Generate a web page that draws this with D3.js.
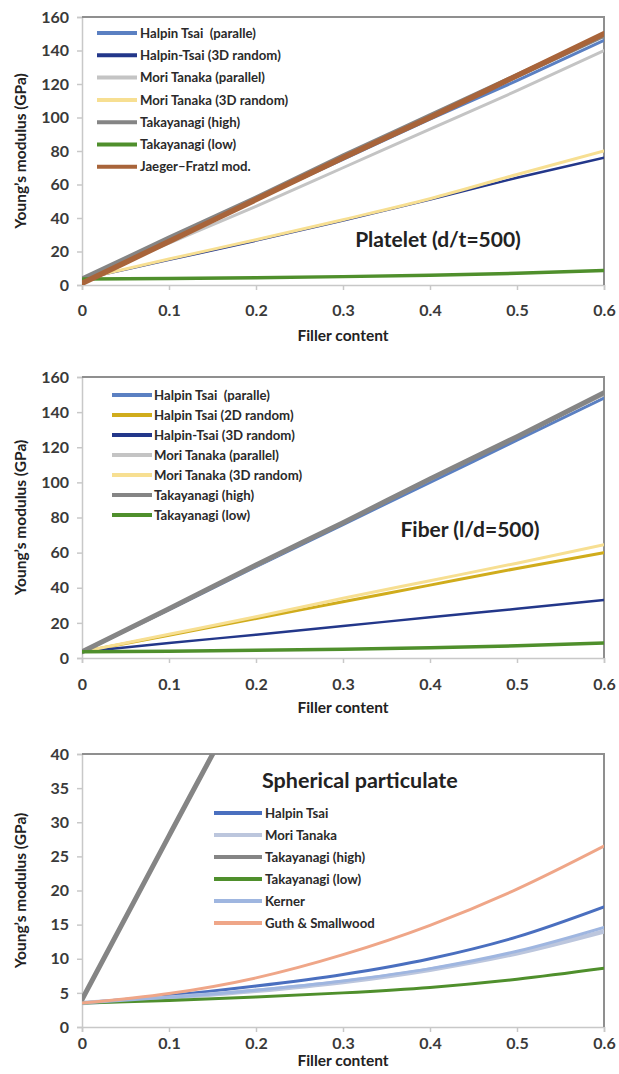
<!DOCTYPE html>
<html lang="en">
<script src="https://d3js.org/d3.v7.min.js"></script>
<style>
  body { margin: 0; background: #fff; }
  svg text { font-family: Lato, "Open Sans", sans-serif; }
  .tick text { font-size: 16px; font-weight: bold; fill: #3a3a3a; }
  .legend text { font-size: 13.2px; font-weight: bold; fill: #2a2a2a; white-space: pre; }
  .axis-title { font-size: 15.5px; font-weight: bold; fill: #222; }
  .note { font-weight: bold; fill: #222; }
</style>
<body>
<svg id="chart" width="619" height="1074"></svg>
<script>
  // filler volume fraction (x) shared by all panels
  var fillerX = [0, 0.1, 0.2, 0.3, 0.4, 0.5, 0.6];
  var xTicks = [0, 0.1, 0.2, 0.3, 0.4, 0.5, 0.6];
  var xTickLabels = ["0", "0.1", "0.2", "0.3", "0.4", "0.5", "0.6"];

  // Platelet (d/t=500)
  var plateletNames = ["Halpin Tsai  (paralle)", "Halpin-Tsai (3D random)", "Mori Tanaka (parallel)",
    "Mori Tanaka (3D random)", "Takayanagi (high)", "Takayanagi (low)", "Jaeger\u2013Fratzl mod."];
  var plateletValues = [
    [3.5, 27, 51, 75, 99, 122, 146],
    [3.5, 15, 26.5, 38.5, 51, 64, 76],
    [3.5, 25, 47, 70, 93, 116, 140],
    [3.5, 15.5, 27, 39, 51.5, 66, 80],
    [3.5, 28, 52, 77, 101, 125, 149],
    [3.5, 3.9, 4.4, 5.0, 5.8, 7.0, 8.7],
    [1, 26, 51, 76, 100, 125, 150]
  ];
  var plateletYTicks = [0, 20, 40, 60, 80, 100, 120, 140, 160];

  // Fiber (l/d=500)
  var fiberNames = ["Halpin Tsai  (paralle)", "Halpin Tsai (2D random)", "Halpin-Tsai (3D random)",
    "Mori Tanaka (parallel)", "Mori Tanaka (3D random)", "Takayanagi (high)", "Takayanagi (low)"];
  var fiberValues = [
    [3.5, 27.5, 52, 76, 100, 124, 148],
    [3.5, 13, 22.5, 32, 41.5, 51, 60],
    [3.5, 8.5, 13.3, 18.2, 23.2, 28, 33],
    [3.5, 28, 52.5, 77, 101.5, 126, 150],
    [3.5, 13.5, 23.5, 34, 44, 54, 64.5],
    [3.5, 28, 53, 77, 102, 126, 151],
    [3.5, 3.9, 4.4, 5.0, 5.8, 7.0, 8.5]
  ];
  var fiberYTicks = [0, 20, 40, 60, 80, 100, 120, 140, 160];

  // Spherical particulate
  var sphereNames = ["Halpin Tsai", "Mori Tanaka", "Takayanagi (high)", "Takayanagi (low)", "Kerner", "Guth & Smallwood"];
  var sphereValues = [
    [3.5, 4.6, 6.0, 7.7, 10.0, 13.2, 17.6],
    [3.5, 4.3, 5.3, 6.6, 8.4, 10.8, 14.0],
    [4, 28, 52, 77, 101, 125, 150],
    [3.5, 3.9, 4.4, 5.0, 5.8, 7.0, 8.6],
    [3.5, 4.35, 5.4, 6.75, 8.55, 11.1, 14.6],
    [3.5, 4.9, 7.2, 10.6, 14.9, 20.2, 26.5]
  ];
  var sphereYTicks = [0, 5, 10, 15, 20, 25, 30, 35, 40];

  var svg = d3.select("#chart");

  var panels = [
    { names: plateletNames, values: plateletValues, yTicks: plateletYTicks, yMax: 160,
      top: 17, bottom: 285, tickY: 310, titleY: 336,
      colors: ["#5b80c2", "#23378a", "#c4c4c4", "#f7df92", "#858585", "#4f8f2c", "#a8643a"],
      widths: [3, 2.5, 3, 3, 5, 3.5, 5.5],
      legend: { x1: 97, x2: 137, tx: 140, y0: 33, dy: 22.3 },
      note: { text: "Platelet (d/t=500)", x: 438, y: 240, size: 21 } },
    { names: fiberNames, values: fiberValues, yTicks: fiberYTicks, yMax: 160,
      top: 377, bottom: 658, tickY: 684, titleY: 708,
      colors: ["#5b80c2", "#d0ac1c", "#23378a", "#c4c4c4", "#f7df92", "#858585", "#4f8f2c"],
      widths: [3, 3, 2.5, 3, 3, 5, 3.5],
      legend: { x1: 112, x2: 152, tx: 154, y0: 395, dy: 20 },
      note: { text: "Fiber (l/d=500)", x: 470, y: 530, size: 21 } },
    { names: sphereNames, values: sphereValues, yTicks: sphereYTicks, yMax: 40,
      top: 754, bottom: 1027, tickY: 1043, titleY: 1061,
      colors: ["#4a6fbf", "#bcc6dd", "#858585", "#4f8f2c", "#9fb6e0", "#efa688"],
      widths: [3, 4.5, 5, 3, 3, 3],
      legend: { x1: 214, x2: 262, tx: 265, y0: 813, dy: 22 },
      note: { text: "Spherical particulate", x: 262, y: 780, size: 21.5, anchor: "start" } }
  ];

  var left = 82, right = 604;

  panels.forEach(function (p, pi) {
    var x = d3.scaleLinear().domain([0, 0.6]).range([left, right]);
    var y = d3.scaleLinear().domain([0, p.yMax]).range([p.bottom, p.top]);
    var g = svg.append("g");

    g.append("clipPath").attr("id", "clip" + pi)
      .append("rect").attr("x", left).attr("y", p.top)
      .attr("width", right - left).attr("height", p.bottom - p.top);

    // y axis
    var ya = g.append("g").attr("transform", "translate(" + left + ",0)")
      .call(d3.axisLeft(y).tickValues(p.yTicks).tickSize(5).tickPadding(8));
    ya.select(".domain").attr("stroke", "#c8c8c8").attr("stroke-width", 1.5);
    ya.selectAll(".tick line").attr("stroke", "#c8c8c8").attr("stroke-width", 1.5);

    // x axis
    var xa = g.append("g").attr("transform", "translate(0," + p.bottom + ")")
      .call(d3.axisBottom(x).tickValues(xTicks).tickSize(5)
        .tickFormat(function (d, i) { return xTickLabels[i]; }));
    xa.select(".domain").attr("stroke", "#c8c8c8").attr("stroke-width", 1.5);
    xa.selectAll(".tick line").attr("stroke", "#c8c8c8").attr("stroke-width", 1.5);
    xa.selectAll(".tick text").attr("y", 0).attr("dy", null)
      .attr("transform", "translate(0," + (p.tickY - p.bottom + 6) + ")");

    // top / right border of plot area
    g.append("path")
      .attr("d", "M" + left + "," + p.top + "H" + right + "V" + p.bottom)
      .attr("fill", "none").attr("stroke", "#8f8f8f").attr("stroke-width", 2);

    // series
    var line = d3.line()
      .x(function (d, i) { return x(fillerX[i]); })
      .y(function (d) { return y(d); })
      .curve(d3.curveMonotoneX);

    g.append("g").attr("clip-path", "url(#clip" + pi + ")")
      .selectAll("path").data(p.values).join("path")
      .attr("d", line)
      .attr("fill", "none")
      .attr("stroke", function (d, i) { return p.colors[i]; })
      .attr("stroke-width", function (d, i) { return p.widths[i]; })
      .attr("stroke-linecap", "round");

    // legend
    var lg = g.append("g").attr("class", "legend")
      .selectAll("g").data(p.names).join("g")
      .attr("transform", function (d, i) { return "translate(0," + (p.legend.y0 + i * p.legend.dy) + ")"; });
    lg.append("line")
      .attr("x1", p.legend.x1).attr("x2", p.legend.x2)
      .attr("stroke", function (d, i) { return p.colors[i]; })
      .attr("stroke-width", 4);
    lg.append("text").attr("x", p.legend.tx).attr("dy", "0.35em").text(function (d) { return d; });

    // titles
    g.append("text").attr("class", "axis-title")
      .attr("x", 343).attr("y", p.titleY).attr("dy", "0.35em")
      .attr("text-anchor", "middle").text("Filler content");
    g.append("text").attr("class", "axis-title")
      .attr("transform", "translate(21," + ((p.top + p.bottom) / 2) + ") rotate(-90)")
      .attr("dy", "0.35em").attr("text-anchor", "middle")
      .text("Young\u2019s modulus (GPa)");

    g.append("text").attr("class", "note")
      .attr("x", p.note.x).attr("y", p.note.y).attr("dy", "0.35em")
      .attr("text-anchor", p.note.anchor || "middle")
      .style("font-size", p.note.size + "px")
      .text(p.note.text);
  });
</script>
</body>
</html>
